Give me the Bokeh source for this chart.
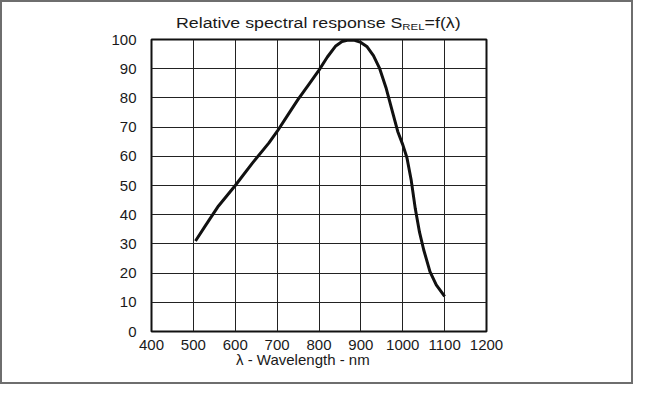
from bokeh.plotting import figure
from bokeh.models import Range1d, FixedTicker, Div
from bokeh.layouts import column, row
from bokeh.embed import file_html
from bokeh.resources import INLINE

# Data
wavelength = [505, 530, 560, 600, 640, 680, 700, 725, 750, 775, 800, 820, 840,
              855, 870, 885, 900, 915, 930, 945, 960, 975, 988, 1000, 1010,
              1020, 1030, 1040, 1050, 1065, 1080, 1100]
response = [31, 36.5, 43, 50, 57.5, 64.5, 68.5, 74, 79.5, 84.5, 89.5, 94, 97.8,
            99.3, 99.8, 99.7, 99, 97.5, 94.5, 90, 83.5, 75.5, 68.5, 64, 59.5,
            52, 42, 34, 28, 20.5, 16, 12]
x_ticks = [400, 500, 600, 700, 800, 900, 1000, 1100, 1200]
y_ticks = [0, 10, 20, 30, 40, 50, 60, 70, 80, 90, 100]
title_main = "Relative spectral response S"
title_sub = "REL"
title_tail = "=f(λ)"
x_label = "λ - Wavelength - nm"

FONT = "Liberation Sans"
EDGE = "#6e6e6e"
BORDER = f"2px solid {EDGE}"

p = figure(width=629, height=327, output_backend="svg", toolbar_location=None,
           x_range=Range1d(400, 1200), y_range=Range1d(0, 100),
           min_border_left=149, min_border_right=145,
           min_border_top=13, min_border_bottom=22, margin=0)

p.line(wavelength, response, line_color="#111111", line_width=3)

p.xaxis.ticker = FixedTicker(ticks=x_ticks)
p.yaxis.ticker = FixedTicker(ticks=y_ticks)
for ax in (p.xaxis, p.yaxis):
    ax.axis_line_color = None
    ax.major_tick_line_color = None
    ax.minor_tick_line_color = None
    ax.major_label_text_font = FONT
    ax.major_label_text_font_size = "15px"
    ax.major_label_text_color = "#1a1a1a"
p.xaxis.major_label_standoff = 2
p.yaxis.major_label_standoff = 9

p.xgrid.ticker = FixedTicker(ticks=x_ticks)
p.ygrid.ticker = FixedTicker(ticks=y_ticks)
for g in (p.xgrid, p.ygrid):
    g.grid_line_color = "#222222"
    g.grid_line_width = 1
    g.grid_line_alpha = 1

p.outline_line_color = "#111111"
p.outline_line_width = 2
p.background_fill_color = "white"
p.border_fill_color = None

txt = f"font-family:'{FONT}'; color:#1a1a1a; white-space:nowrap;"
top_div = Div(
    width=633, height=26, margin=0,
    styles={"overflow": "visible", "border-top": BORDER, "border-left": BORDER,
            "border-right": BORDER, "box-sizing": "border-box"},
    text=(f"<div style=\"{txt} font-size:14px; line-height:16px; padding-left:174px; "
          f"padding-top:13px;\"><span style=\"display:inline-block; transform:scaleX(1.27); "
          f"transform-origin:left center;\">{title_main}"
          f"<span style=\"font-size:9px; color:#1a1a1a; vertical-align:-2px;\">{title_sub}</span>"
          f"{title_tail}</span></div>"),
)
bottom_div = Div(
    width=633, height=31, margin=0,
    styles={"border-bottom": BORDER, "border-left": BORDER, "border-right": BORDER,
            "box-sizing": "border-box"},
    text=(f"<div style=\"{txt} font-size:15px; line-height:14px; padding-left:234px; "
          f"padding-top:0px;\">{x_label}</div>"),
)
left_edge = Div(width=2, height=327, margin=0, text="", styles={"background": EDGE})
right_edge = Div(width=2, height=327, margin=0, text="", styles={"background": EDGE})

layout = column(top_div, row(left_edge, p, right_edge, spacing=0, margin=0),
                bottom_div, spacing=0, margin=0)

open("out.html", "w").write(file_html(layout, INLINE))
